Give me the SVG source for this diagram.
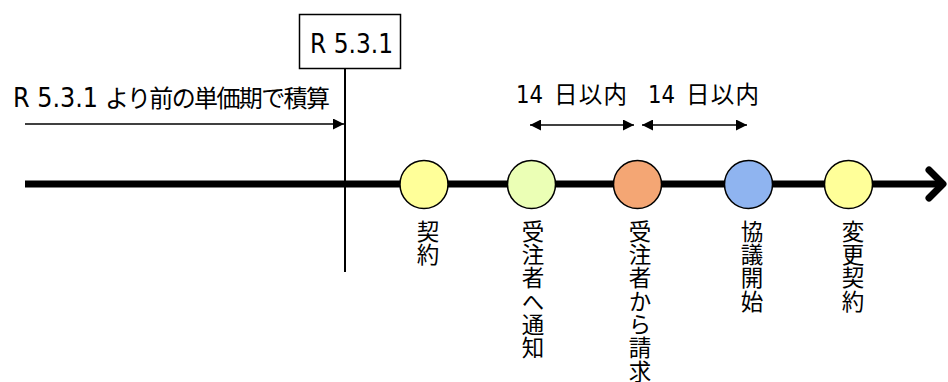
<svg xmlns="http://www.w3.org/2000/svg" width="948" height="382" viewBox="0 0 948 382">
<defs>
<style>
.lat{font-family:"DejaVu Sans","Noto Sans CJK JP",sans-serif;font-stretch:condensed;fill:#000}
.jp{font-family:"Noto Sans CJK JP",sans-serif;font-stretch:normal;fill:#000}
.thin{stroke:#000;stroke-width:1.5;fill:none}
.node{stroke:#000;stroke-width:1.5}
.vlab{font-family:"Noto Sans CJK JP",sans-serif;font-size:22.5px;fill:#000;writing-mode:vertical-rl;text-orientation:upright;letter-spacing:0.8px}
</style>
<marker id="ah2" viewBox="0 0 10 10" refX="10" refY="5" markerWidth="11" markerHeight="11" markerUnits="userSpaceOnUse" orient="auto-start-reverse">
<path d="M0,0 L10,5 L0,10 z" fill="#000"/>
</marker>
</defs>
<rect width="948" height="382" fill="#fff"/>
<g id="connectors">
<line x1="25" y1="184" x2="940" y2="184" stroke="#000" stroke-width="7"/>
<polyline points="929,170 943,184 929,198" fill="none" stroke="#000" stroke-width="7" stroke-linecap="round" stroke-linejoin="round"/>
<line x1="345" y1="68" x2="345" y2="272" stroke="#000" stroke-width="2"/>
<line class="thin" x1="25" y1="124" x2="344" y2="124" marker-end="url(#ah2)"/>
<line class="thin" x1="530" y1="125" x2="634" y2="125" marker-start="url(#ah2)" marker-end="url(#ah2)"/>
<line class="thin" x1="642" y1="125" x2="747" y2="125" marker-start="url(#ah2)" marker-end="url(#ah2)"/>
</g>
<g id="date-box">
<rect x="299.5" y="14.5" width="101" height="54" fill="#fff" stroke="#000" stroke-width="1.5"/>
<text class="lat" x="310" y="53" font-size="26" textLength="83" lengthAdjust="spacingAndGlyphs">R 5.3.1</text>
</g>
<g id="before-label">
<text class="lat" x="13" y="107" font-size="26" textLength="85" lengthAdjust="spacingAndGlyphs">R 5.3.1</text>
<text class="jp" x="105" y="107" font-size="24" textLength="225" lengthAdjust="spacing">より前の単価期で積算</text>
</g>
<g id="period-labels">
<text class="lat" x="516" y="103" font-size="24" textLength="27" lengthAdjust="spacingAndGlyphs">14</text>
<text class="jp" x="554" y="103" font-size="23.5" textLength="73" lengthAdjust="spacing">日以内</text>
<text class="lat" x="648" y="103" font-size="24" textLength="27" lengthAdjust="spacingAndGlyphs">14</text>
<text class="jp" x="686" y="103" font-size="23.5" textLength="73" lengthAdjust="spacing">日以内</text>
</g>
<g id="node-keiyaku">
<circle class="node" cx="424" cy="184.5" r="24" fill="#FFFF99"/>
<text class="vlab" x="428" y="220">契約</text>
</g>
<g id="node-tsuchi">
<circle class="node" cx="531.5" cy="184.5" r="24" fill="#EBFFB5"/>
<text class="vlab" x="533" y="220">受注者へ通知</text>
</g>
<g id="node-seikyu">
<circle class="node" cx="637.5" cy="184.5" r="24" fill="#F4A674"/>
<text class="vlab" x="640" y="220">受注者から請求</text>
</g>
<g id="node-kyogi">
<circle class="node" cx="748.5" cy="184.5" r="24" fill="#8FB4F0"/>
<text class="vlab" x="752" y="220">協議開始</text>
</g>
<g id="node-henko">
<circle class="node" cx="848.5" cy="184.5" r="24" fill="#FFFF99"/>
<text class="vlab" x="853" y="220">変更契約</text>
</g>
</svg>
